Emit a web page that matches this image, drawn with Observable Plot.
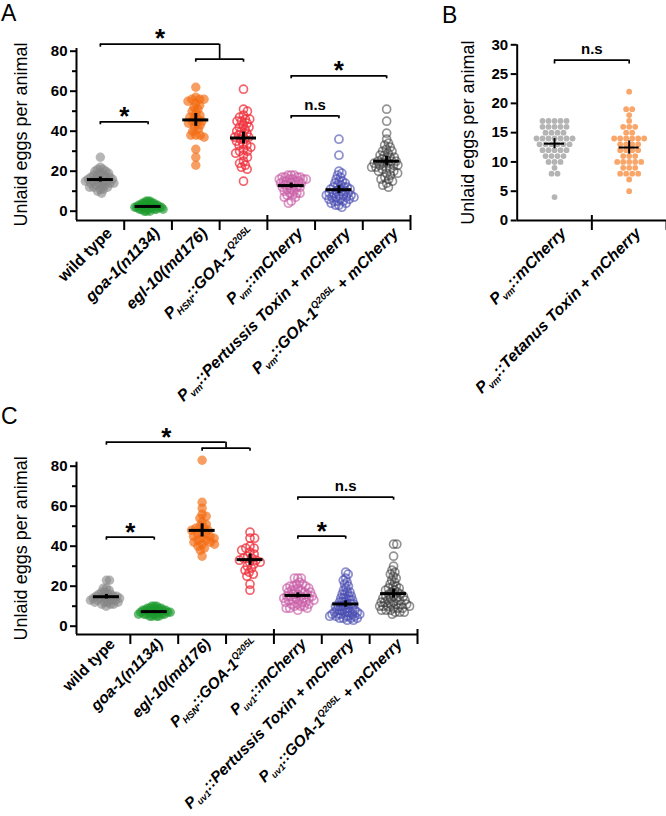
<!DOCTYPE html>
<html><head><meta charset="utf-8">
<script src="https://cdn.jsdelivr.net/npm/d3@7"></script>
<script src="https://cdn.jsdelivr.net/npm/@observablehq/plot@0.6"></script>
<style>
 html,body{margin:0;padding:0;background:#fff;}
 #root{position:relative;width:666px;height:816px;overflow:hidden;font-family:"Liberation Sans",Arial,sans-serif;}
 .panel{position:absolute;}
 .panel svg{overflow:visible;}
 .letter{position:absolute;font-size:23px;line-height:1;color:#000;}
</style></head><body>
<div id="root">
  <div class="panel" id="pA" style="left:0;top:0"></div>
  <div class="panel" id="pB" style="left:430px;top:0"></div>
  <div class="panel" id="pC" style="left:0;top:420px"></div>
  <div class="letter" style="left:1px;top:2px">A</div>
  <div class="letter" style="left:442px;top:4px">B</div>
  <div class="letter" style="left:1px;top:405px">C</div>
</div>
<script>
// ================= DATA =================
const yTitle = "Unlaid eggs per animal";

// ---- Panel A ----
const yTicksA = [0, 20, 40, 60, 80];
const yMinorA = [10, 30, 50, 70];
const catsA = ["wild type", "goa-1(n1134)", "egl-10(md176)", "P_{HSN}::GOA-1^{Q205L}",
  "P_{vm}::mCherry", "P_{vm}::Pertussis Toxin + mCherry", "P_{vm}::GOA-1^{Q205L} + mCherry"];
const wildTypeA = [27, 22, 21, 21, 20, 20, 19, 19, 18, 18, 18, 17, 17, 17, 16, 16, 16, 16, 15, 15, 15, 15, 14, 14, 14, 14, 13, 13, 13, 12, 12, 12, 11, 11, 10, 9];
const goa1A = [0, 0, 0, 1, 1, 1, 1, 1, 1, 2, 2, 2, 2, 2, 2, 2, 2, 3, 3, 3, 3, 3, 3, 4, 4, 4, 4, 5, 5, 5];
const egl10A = [62, 57, 56, 56, 56, 55, 54, 53, 52, 51, 50, 49, 48, 47, 47, 46, 45, 45, 44, 44, 43, 42, 41, 40, 38, 38, 38, 37, 31, 27, 23];
const hsnGoaA = [61, 51, 50, 48, 47, 46, 46, 45, 45, 44, 43, 42, 42, 41, 40, 40, 39, 38, 38, 37, 37, 36, 36, 35, 34, 33, 33, 32, 31, 30, 30, 29, 28, 27, 25, 24, 23, 22, 21, 15];
const vmMchA = [18, 18, 18, 17, 17, 17, 17, 16, 16, 16, 16, 16, 15, 15, 15, 15, 14, 14, 14, 13, 13, 13, 12, 12, 12, 11, 11, 10, 10, 9, 9, 9, 8, 8, 7, 7, 5, 4];
const vmPtxA = [36, 28, 20, 19, 18, 17, 16, 15, 15, 14, 14, 13, 13, 12, 12, 12, 11, 11, 11, 10, 10, 10, 9, 9, 9, 8, 8, 8, 8, 7, 7, 7, 7, 6, 6, 6, 5, 5, 5, 4, 4, 3, 3, 2];
const vmGoaA = [51, 45, 39, 36, 34, 33, 32, 31, 30, 30, 29, 28, 28, 27, 27, 26, 26, 25, 25, 25, 24, 24, 24, 23, 23, 23, 22, 22, 22, 21, 21, 20, 20, 19, 19, 18, 17, 16, 16, 15, 14, 13, 12];
const groupsA = [wildTypeA, goa1A, egl10A, hsnGoaA, vmMchA, vmPtxA, vmGoaA];
const bracketsA = [
  {from: 0, to: 1, level: 44.7, label: "*"},
  {from: 4, to: 5, level: 47.7, label: "n.s"},
  {from: 4, to: 6, level: 67.7, label: "*"},
  {from: 2, to: 3, level: 76, label: ""},
  {from: 0, to: 2.5, level: 83.5, label: "*", joinTo: 76}
];

// ---- Panel B ----
const yTicksB = [0, 5, 10, 15, 20, 25, 30];
const catsB = ["P_{vm}::mCherry", "P_{vm}::Tetanus Toxin + mCherry"];
const vmMchB = [17, 17, 17, 17, 17, 16, 16, 16, 16, 16, 15, 15, 15, 15, 14, 14, 14, 14, 14, 14, 14, 13, 13, 13, 13, 13, 13, 12, 12, 12, 12, 12, 11, 11, 11, 11, 10, 10, 10, 9, 8, 8, 4];
const vmTetB = [22, 19, 19, 18, 17, 16, 16, 16, 15, 15, 14, 14, 14, 14, 14, 14, 13, 13, 13, 13, 12, 12, 12, 12, 11, 11, 11, 10, 10, 10, 10, 10, 9, 9, 9, 8, 8, 8, 8, 7, 5];
const groupsB = [vmMchB, vmTetB];
const bracketsB = [{from: 0, to: 1, level: 27.4, label: "n.s"}];

// ---- Panel C ----
const yTicksC = [0, 20, 40, 60, 80];
const yMinorC = [10, 30, 50, 70];
const catsC = ["wild type", "goa-1(n1134)", "egl-10(md176)", "P_{HSN}::GOA-1^{Q205L}",
  "P_{uv1}::mCherry", "P_{uv1}::Pertussis Toxin + mCherry", "P_{uv1}::GOA-1^{Q205L} + mCherry"];
const wildTypeC = [23, 23, 19, 19, 18, 17, 17, 16, 16, 16, 15, 15, 15, 15, 14, 14, 14, 14, 14, 13, 13, 13, 13, 12, 12, 12, 12, 11, 11, 11, 10];
const goa1C = [10, 10, 10, 9, 9, 9, 9, 8, 8, 8, 8, 8, 8, 7, 7, 7, 7, 7, 7, 7, 6, 6, 6, 6, 6, 6, 5, 5, 5, 5];
const egl10C = [83, 62, 59, 56, 55, 54, 52, 51, 50, 49, 49, 48, 48, 47, 46, 46, 45, 45, 44, 44, 43, 43, 42, 42, 41, 41, 40, 39, 38, 35];
const hsnGoaC = [47, 44, 44, 40, 39, 39, 38, 37, 36, 35, 34, 34, 33, 33, 32, 32, 31, 30, 29, 28, 27, 26, 25, 21, 18];
const uv1MchC = [24, 24, 24, 22, 21, 21, 20, 20, 20, 19, 19, 19, 18, 18, 18, 17, 17, 17, 16, 16, 16, 15, 15, 15, 15, 14, 14, 14, 14, 13, 13, 13, 13, 12, 12, 12, 11, 11, 11, 10, 10, 10, 9, 9, 9, 8];
const uv1PtxC = [27, 26, 24, 23, 22, 21, 20, 19, 18, 17, 17, 16, 16, 15, 15, 14, 14, 14, 13, 13, 12, 12, 12, 11, 11, 11, 10, 10, 10, 10, 9, 9, 9, 8, 8, 8, 8, 7, 7, 7, 7, 7, 6, 6, 6, 6, 6, 5, 5, 5, 5, 5, 4, 4, 4, 4, 3, 3];
const uv1GoaC = [41, 41, 35, 30, 28, 27, 26, 25, 24, 23, 22, 21, 20, 20, 19, 19, 18, 18, 17, 17, 16, 16, 15, 15, 15, 14, 14, 14, 13, 13, 13, 12, 12, 12, 11, 11, 11, 11, 10, 10, 10, 10, 9, 9, 9, 8, 8, 8, 7, 7, 7, 6];
const groupsC = [wildTypeC, goa1C, egl10C, hsnGoaC, uv1MchC, uv1PtxC, uv1GoaC];
const bracketsC = [
  {from: 0, to: 1, level: 44.5, label: "*"},
  {from: 4, to: 5, level: 45, label: "*"},
  {from: 4, to: 6, level: 64.5, label: "n.s"},
  {from: 2, to: 3, level: 89, label: ""},
  {from: 0, to: 2.5, level: 92, label: "*", joinTo: 89}
];

// ================= STYLES =================
const stylesA = [
  {fill: "#858585", fillOpacity: 0.6},
  {fill: "#1c9a2c", fillOpacity: 0.65},
  {fill: "#f26a10", fillOpacity: 0.65},
  {stroke: "#ef2f3b", strokeOpacity: 0.75, strokeWidth: 1.7},
  {stroke: "#c95fa8", strokeOpacity: 0.65, strokeWidth: 1.8},
  {stroke: "#4a4db2", strokeOpacity: 0.62, strokeWidth: 1.8},
  {stroke: "#3a3a3a", strokeOpacity: 0.55, strokeWidth: 1.7}
];
const stylesB = [
  {fill: "#b4b4b4"},
  {fill: "#f9a66a"}
];
const stylesC = stylesA;

// ================= HELPERS =================
function swarm(vals, pxY, rc, maxHalf) {
  const order = d3.range(vals.length).sort((a, b) => vals[b] - vals[a]);
  const placed = [], out = new Array(vals.length);
  const D2 = 4 * rc * rc;
  let flip = 1;
  for (const i of order) {
    const y = vals[i] * pxY;
    const cands = [0];
    for (const p of placed) {
      const dy = Math.abs(p.y - y);
      if (dy < 2 * rc) {
        const dx = Math.sqrt(D2 - dy * dy) + 1e-6;
        cands.push(p.x + dx, p.x - dx);
      }
    }
    cands.sort((a, b) => (Math.abs(a) - Math.abs(b)) || (flip * (b - a)));
    const x = cands.find(c => placed.every(p => (p.x - c) ** 2 + (p.y - y) ** 2 >= D2 - 1e-4));
    if (x !== 0) flip = -flip;
    placed.push({x, y});
    out[i] = x;
  }
  const ext = d3.max(out, Math.abs) || 1;
  const k = Math.min(1, maxHalf / ext);
  return out.map(x => x * k);
}
function rowLayout(vals, spacing) {
  const out = [];
  const byV = d3.group(d3.range(vals.length), i => vals[i]);
  for (const [, idx] of byV) idx.forEach((i, j) => out[i] = (j - (idx.length - 1) / 2) * spacing);
  return out;
}
function rich(t, s, italic, fs) {
  const parts = s.split(/([_^]\{[^}]*\})/).filter(p => p.length);
  while (t.firstChild) t.removeChild(t.firstChild);
  if (italic) t.setAttribute("font-style", "italic");
  let shift = 0;
  for (const p of parts) {
    const ts = document.createElementNS("http://www.w3.org/2000/svg", "tspan");
    let target = 0, txt = p;
    if (p[1] === "{" && (p[0] === "_" || p[0] === "^")) {
      target = p[0] === "_" ? fs * 0.25 : -fs * 0.42;
      txt = p.slice(2, -1);
      ts.setAttribute("font-size", (fs * 0.6).toFixed(1));
    }
    if (target !== shift) ts.setAttribute("dy", (target - shift).toFixed(2));
    shift = target;
    ts.textContent = txt;
    t.appendChild(ts);
  }
}

function drawPanel(cfg) {
  const {width: W, height: H, ml, mr, mt, mb} = cfg;
  const [x0, x1] = cfg.xDomain, [y0, y1] = cfg.yDomain;
  const pxX = (W - ml - mr) / (x1 - x0);
  const pxY = (H - mt - mb) / (y1 - y0);
  const n = cfg.cats.length;
  const points = [], stats = [];
  cfg.groups.forEach((vals, g) => {
    const off = cfg.layout === "rows" ? rowLayout(vals, cfg.spacing) : swarm(vals, pxY, cfg.rc, cfg.maxHalf);
    vals.forEach((v, i) => points.push({g, v, x: g + off[i] / pxX}));
    const m = d3.mean(vals), se = d3.deviation(vals) / Math.sqrt(vals.length);
    stats.push({g, mean: m, lo: m - 1.98 * se, hi: m + 1.98 * se});
  });
  const boundaries = d3.range(n).map(i => i + 0.5);
  const hw = cfg.meanHalf / pxX;
  const drop = cfg.drop / pxY;
  const marks = [
    Plot.ruleY([y0], {strokeWidth: 2}),
    Plot.ruleX([x0], {strokeWidth: 2}),
    Plot.axisY({ticks: cfg.yTicks, tickSize: 6, tickPadding: 3, fontSize: cfg.tickFont, fontWeight: "bold", strokeWidth: 2, label: null}),
    Plot.axisX({ticks: boundaries, tickSize: 10, tickFormat: () => "", strokeWidth: 2, label: null}),
    Plot.ruleX(cfg.crossUps, {y1: y0, y2: y0 + 5 / pxY, strokeWidth: 2})
  ];
  if (cfg.yMinor) marks.push(Plot.axisY({ticks: cfg.yMinor, tickSize: 4, tickFormat: () => "", strokeWidth: 2, label: null}));
  cfg.groups.forEach((vals, g) => {
    const st = cfg.styles[g];
    marks.push(Plot.dot(points.filter(p => p.g === g), {x: "x", y: "v", r: st.stroke ? cfg.rOpen : cfg.r, ...st}));
  });
  marks.push(
    Plot.ruleY(stats, {y: "mean", x1: d => d.g - hw, x2: d => d.g + hw, stroke: "#000", strokeWidth: cfg.meanW}),
    Plot.ruleX(stats, {x: "g", y1: "lo", y2: "hi", stroke: "#000", strokeWidth: cfg.meanW}),
    Plot.ruleY(cfg.brackets, {y: "level", x1: "from", x2: "to", strokeWidth: 1.7}),
    Plot.ruleX(cfg.brackets, {x: "from", y1: "level", y2: d => d.level - drop, strokeWidth: 1.7}),
    Plot.ruleX(cfg.brackets, {x: "to", y1: "level", y2: d => d.joinTo ?? (d.level - drop), strokeWidth: 1.7}),
    Plot.text(cfg.brackets.filter(d => d.label === "*"), {x: d => (d.from + d.to) / 2, y: "level", text: "label", fontSize: 26, fontWeight: "bold", lineAnchor: "bottom", dy: cfg.starDy}),
    Plot.text(cfg.brackets.filter(d => d.label && d.label !== "*"), {x: d => (d.from + d.to) / 2, y: "level", text: "label", fontSize: 15, fontWeight: "bold", lineAnchor: "bottom", dy: -6}),
    Plot.text(d3.range(n), {x: d => d, y: y0, text: d => cfg.cats[d], rotate: -45, textAnchor: "end", lineAnchor: "middle", dx: cfg.labDx, dy: cfg.labDy, fontSize: cfg.labFont, fontWeight: "bold"}),
    Plot.text([yTitle], {frameAnchor: "left", text: d => d, rotate: -90, dx: cfg.titleDx, fontSize: 18, textAnchor: "middle", lineAnchor: "middle"})
  );
  const svg = Plot.plot({
    width: W, height: H,
    marginLeft: ml, marginRight: mr, marginTop: mt, marginBottom: mb,
    x: {domain: cfg.xDomain, label: null},
    y: {domain: cfg.yDomain, label: null},
    style: {fontFamily: "Liberation Sans, Arial, sans-serif", color: "#000", background: "transparent", overflow: "visible"},
    marks
  });
  svg.querySelectorAll("text").forEach(t => {
    const i = cfg.cats.indexOf(t.textContent);
    if (i >= 0) rich(t, cfg.cats[i], cfg.italic(i), cfg.labFont);
  });
  document.getElementById(cfg.id).appendChild(svg);
}

drawPanel({
  id: "pA", width: 420, height: 415, ml: 76, mr: 10, mt: 48, mb: 195,
  xDomain: [-0.5, 6.5], yDomain: [-4.65, 81.35], yTicks: yTicksA, yMinor: yMinorA,
  cats: catsA, groups: groupsA, styles: stylesA, brackets: bracketsA, crossUps: [3.5, 6.5],
  layout: "swarm", rc: 2.2, maxHalf: 15, r: 4.7, rOpen: 4, meanHalf: 13, meanW: 3, drop: 3,
  tickFont: 15, labFont: 16, labDx: 9, labDy: 10, titleDx: -55.5, starDy: 3,
  italic: i => i > 0
});
drawPanel({
  id: "pB", width: 236, height: 330, ml: 86.7, mr: 0, mt: 44.3, mb: 110,
  xDomain: [-0.5, 1.5], yDomain: [0, 30], yTicks: yTicksB, yMinor: null,
  cats: catsB, groups: groupsB, styles: stylesB, brackets: bracketsB, crossUps: [0.5],
  layout: "rows", spacing: 6, r: 2.9, rOpen: 2.9, meanHalf: 10, meanW: 2, drop: 4,
  tickFont: 15, labFont: 16, labDx: 9, labDy: 10, titleDx: -48.7, starDy: 3,
  italic: i => true
});
drawPanel({
  id: "pC", width: 430, height: 396, ml: 76, mr: 13, mt: 41.7, mb: 182,
  xDomain: [-0.625, 6.5], yDomain: [-4.15, 82], yTicks: yTicksC, yMinor: yMinorC,
  cats: catsC, groups: groupsC, styles: stylesC, brackets: bracketsC, crossUps: [3.5, 6.5],
  layout: "swarm", rc: 2.3, maxHalf: 16, r: 4.7, rOpen: 4, meanHalf: 13, meanW: 3, drop: 3,
  tickFont: 15, labFont: 15.5, labDx: 6, labDy: 7, titleDx: -55, starDy: 4,
  italic: i => i > 0
});
</script>
</body></html>
